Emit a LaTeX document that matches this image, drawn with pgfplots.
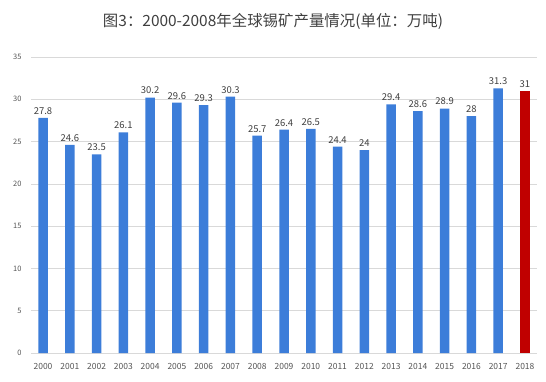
\documentclass[border=0pt]{standalone}
\usepackage{pgfplots}
\pgfplotsset{compat=1.18}
\usepackage{fontspec}
\setmainfont{Noto Sans CJK SC}
\definecolor{barblue}{HTML}{3C7DD9}
\definecolor{barred}{HTML}{C00000}
\definecolor{txt}{HTML}{404040}
\definecolor{gridgray}{HTML}{D9D9D9}
\begin{document}
\begin{tikzpicture}
\path[use as bounding box] (0,0) rectangle (546bp,382bp);
\node[text=txt, font=\fontsize{15.5}{17}\selectfont] at (273bp,361bp) {图3：2000-2008年全球锡矿产量情况(单位：万吨)};
\begin{axis}[
  at={(31bp,29bp)}, anchor=south west,
  scale only axis, width=506bp, height=296bp,
  xmin=-0.45, xmax=18.45, ymin=0, ymax=35,
  ytick={0,5,...,35},
  xtick={0,...,18},
  xticklabels={2000,2001,2002,2003,2004,2005,2006,2007,2008,2009,2010,2011,2012,2013,2014,2015,2016,2017,2018},
  grid=none,
  axis line style={draw=none},
  xtick style={draw=none}, ytick style={draw=none},
  tick label style={text=txt!90},
  xticklabel style={font=\fontsize{8.5}{9}\selectfont, yshift=-3bp},
  yticklabel style={font=\fontsize{7.5}{8}\selectfont, xshift=-6bp},
  /pgf/number format/assume math mode=true,
  ybar, bar width=9.5bp, bar shift=0pt,
  nodes near coords, every node near coord/.append style={text=txt, font=\fontsize{9.5}{10}\selectfont},
  point meta=explicit symbolic,
  clip=false,
]
\pgfplotsinvokeforeach{0,5,...,35}{\draw[gridgray, line width=0.7pt] (axis cs:-0.45,#1) -- (axis cs:18.45,#1);}
\addplot[fill=barblue, draw=none] coordinates {
(0,27.8) [27.8] (1,24.6) [24.6] (2,23.5) [23.5] (3,26.1) [26.1] (4,30.2) [30.2] (5,29.6) [29.6] (6,29.3) [29.3] (7,30.3) [30.3] (8,25.7) [25.7] (9,26.4) [26.4] (10,26.5) [26.5] (11,24.4) [24.4] (12,24) [24] (13,29.4) [29.4] (14,28.6) [28.6] (15,28.9) [28.9] (16,28) [28] (17,31.3) [31.3]};
\addplot[fill=barred, draw=none] coordinates {(18,31) [31]};
\end{axis}
\end{tikzpicture}
\end{document}
